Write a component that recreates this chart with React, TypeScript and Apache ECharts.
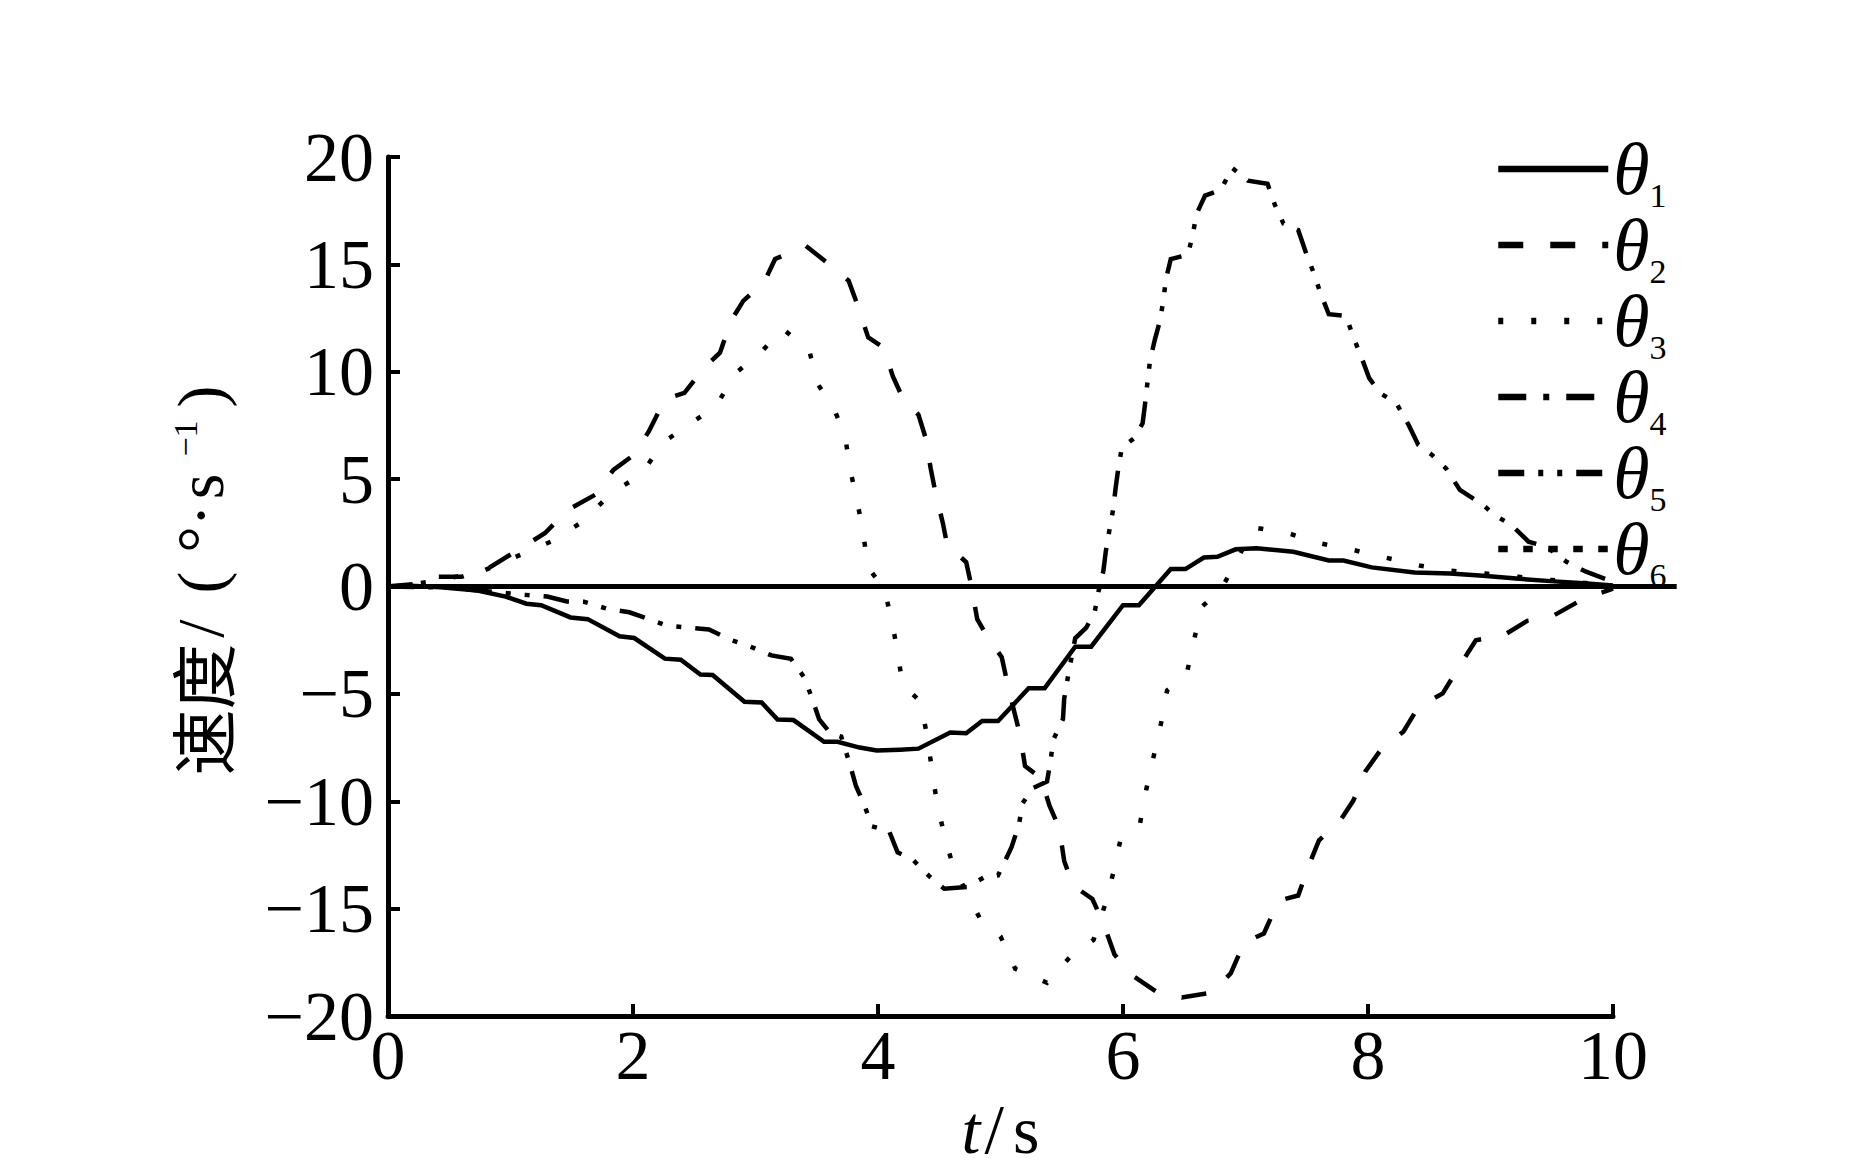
import React, { useEffect, useRef } from "react";
import * as echarts from "echarts";

// ---- data (t in s, velocity in deg/s) ----
const xTickValues = [0, 2, 4, 6, 8, 10];
const yTickValues = [-20, -15, -10, -5, 0, 5, 10, 15, 20];

const seriesNames = ["θ1", "θ2", "θ3", "θ4", "θ5", "θ6"];

const theta1: [number, number][] = [
  [0, 0], [0.14, 0.05], [0.43, -0.04], [0.73, -0.19], [0.96, -0.47], [1.13, -0.8], [1.25, -0.87],
  [1.49, -1.44], [1.63, -1.52], [1.89, -2.32], [2.01, -2.4], [2.26, -3.36], [2.39, -3.41],
  [2.55, -4.1], [2.65, -4.12], [2.91, -5.37], [3.05, -5.4], [3.18, -6.19], [3.31, -6.22],
  [3.56, -7.23], [3.67, -7.23], [3.85, -7.5], [3.99, -7.64], [4.18, -7.6], [4.33, -7.55],
  [4.59, -6.8], [4.72, -6.83], [4.85, -6.26], [4.98, -6.26], [5.23, -4.74], [5.36, -4.74],
  [5.61, -2.8], [5.74, -2.8], [6.0, -0.87], [6.13, -0.87], [6.39, 0.81], [6.51, 0.81],
  [6.66, 1.35], [6.77, 1.38], [6.92, 1.73], [7.09, 1.78], [7.39, 1.62], [7.68, 1.21],
  [7.8, 1.21], [8.03, 0.89], [8.38, 0.65], [8.67, 0.6], [8.94, 0.5], [9.21, 0.37],
  [9.49, 0.25], [9.76, 0.15], [10, 0.05],
];

const theta2: [number, number][] = [
  [0, 0], [0.2, 0.1], [0.41, 0.45], [0.6, 0.45], [0.84, 0.92], [1.06, 1.7], [1.28, 2.48],
  [1.47, 3.57], [1.69, 4.27], [1.84, 5.43], [2.01, 6.14], [2.13, 7.23], [2.26, 8.71],
  [2.42, 9.02], [2.58, 10.19], [2.71, 10.89], [2.8, 12.37], [2.9, 13.3], [3.07, 14.16],
  [3.16, 15.25], [3.41, 15.87], [3.58, 15.1], [3.76, 14.24], [3.83, 13.15], [3.92, 11.6],
  [4.05, 11.1], [4.12, 9.8], [4.2, 8.8], [4.33, 8.0], [4.39, 6.9], [4.43, 5.5], [4.47, 4.35],
  [4.53, 2.94], [4.57, 1.78], [4.65, 1.5], [4.72, 1.13], [4.76, 0.09], [4.81, -1.52],
  [4.89, -2.32], [5.01, -3.29], [5.05, -4.34], [5.11, -5.78], [5.16, -6.91], [5.2, -8.36],
  [5.33, -8.92], [5.4, -10.21], [5.48, -11.25], [5.52, -12.78], [5.59, -13.91], [5.75, -14.55],
  [5.84, -15.68], [5.93, -17.13], [6.05, -18.01], [6.28, -18.9], [6.48, -19.14], [6.73, -18.9],
  [6.88, -18.01], [6.99, -16.57], [7.15, -16.16], [7.27, -14.63], [7.43, -14.39], [7.52, -12.94],
  [7.6, -11.82], [7.77, -10.93], [7.88, -9.97], [7.98, -8.6], [8.1, -7.64], [8.29, -6.75],
  [8.41, -5.62], [8.61, -4.98], [8.74, -3.77], [8.88, -2.5], [9.1, -2.3], [9.3, -1.6],
  [9.5, -1.4], [9.75, -0.6], [10, -0.1],
];

const theta3: [number, number][] = [
  [0, 0], [0.4, 0.25], [0.79, 0.76], [1.33, 2.09], [1.59, 3.02], [1.83, 4.39], [2.06, 5.17],
  [2.25, 6.73], [2.47, 7.59], [2.68, 8.4], [2.83, 9.91], [3.03, 10.81], [3.22, 12.02],
  [3.44, 10.96], [3.51, 9.41], [3.64, 8.27], [3.73, 7.07], [3.77, 5.51], [3.83, 3.99],
  [3.88, 2.43], [3.92, 0.87], [4.05, -0.1], [4.11, -1.52], [4.16, -3.05], [4.2, -4.58],
  [4.35, -5.37], [4.4, -6.96], [4.44, -8.49], [4.48, -10.05], [4.54, -11.54], [4.61, -12.98],
  [4.83, -15.44], [5.0, -16.29], [5.12, -17.8], [5.38, -18.45], [5.57, -17.24], [5.76, -16.45],
  [5.85, -14.87], [5.92, -13.35], [5.98, -11.78], [6.14, -11.01], [6.19, -9.45], [6.25, -7.92],
  [6.31, -6.38], [6.36, -4.84], [6.52, -4.07], [6.58, -2.49], [6.64, -0.96], [6.8, -0.15],
  [7.07, 2.74], [7.34, 2.5], [7.6, 2.02], [7.88, 1.7], [8.14, 1.35], [8.42, 0.98],
  [8.68, 0.73], [8.96, 0.6], [9.23, 0.45], [9.5, 0.3], [9.8, 0.15], [10, 0.05],
];

const theta4: [number, number][] = [[0, 0], [10, 0]];

const theta5: [number, number][] = [
  [0, 0], [0.5, -0.05], [0.95, -0.3], [1.12, -0.39], [1.3, -0.47], [1.46, -0.7], [1.6, -0.71],
  [1.79, -1.04], [1.97, -1.2], [2.13, -1.52], [2.27, -1.81], [2.46, -1.92], [2.62, -2.0],
  [2.8, -2.49], [2.95, -2.78], [3.13, -3.21], [3.29, -3.37], [3.4, -4.25], [3.46, -5.19],
  [3.52, -6.19], [3.61, -6.82], [3.7, -6.99], [3.77, -8.27], [3.82, -9.29], [3.89, -10.2],
  [3.95, -11.17], [4.09, -11.38], [4.16, -12.38], [4.28, -12.7], [4.42, -13.5], [4.54, -14.07],
  [4.73, -13.99], [4.88, -13.5], [4.98, -13.45], [5.01, -13.1], [5.09, -12.14], [5.15, -11.1],
  [5.18, -10.1], [5.26, -9.4], [5.38, -9.08], [5.41, -8.07], [5.43, -7.15], [5.51, -6.17],
  [5.52, -5.22], [5.55, -4.22], [5.58, -3.29], [5.61, -2.41], [5.7, -1.92], [5.77, -1.15],
  [5.8, -0.23], [5.84, 0.73], [5.86, 1.65], [5.89, 2.66], [5.92, 3.6], [5.94, 4.6],
  [5.96, 5.43], [5.99, 6.45], [6.09, 6.9], [6.16, 7.6], [6.18, 8.5], [6.2, 9.52], [6.22, 10.5],
  [6.26, 11.5], [6.3, 12.34], [6.33, 13.33], [6.35, 14.3], [6.39, 15.25], [6.53, 15.45],
  [6.57, 16.4], [6.6, 17.35], [6.67, 18.2], [6.8, 18.47], [6.89, 19.5], [7.02, 18.9],
  [7.18, 18.75], [7.24, 17.77], [7.31, 16.9], [7.43, 16.6], [7.49, 15.6], [7.55, 14.7],
  [7.61, 13.7], [7.68, 12.68], [7.82, 12.6], [7.88, 11.62], [7.95, 10.62], [8.01, 9.7],
  [8.1, 9.0], [8.23, 8.55], [8.33, 7.54], [8.41, 6.6], [8.52, 6.14], [8.64, 5.48], [8.75, 4.5],
  [8.94, 3.8], [9.03, 3.33], [9.17, 2.87], [9.31, 2.09], [9.46, 1.85], [9.62, 1.15],
  [9.78, 0.69], [9.96, 0.3], [10, 0.2],
];

const theta6: [number, number][] = [[0, 0], [10, 0]];

// the solid zero reference line runs a little past t = 10
const zeroLineEnd = 10.52;
const zeroLine: [number, number][] = [[0, 0], [zeroLineEnd, 0]];

const seriesData = [theta1, theta2, theta3, theta4, theta5, theta6];

// line dash patterns (px)
const dashPatterns: any[] = [
  "solid",
  [25, 27],
  [5, 28],
  [28, 17, 6, 17],
  [26, 14, 5, 14, 5, 14],
  [9.5, 15.5],
];

const SERIF = "'Liberation Serif', 'Times New Roman', serif";
const CJK = "'Noto Sans CJK SC', 'Liberation Serif', sans-serif";

export default function App() {
  const ref = useRef<HTMLDivElement | null>(null);

  useEffect(() => {
    if (!ref.current) return;
    const chart = echarts.init(ref.current, null, { renderer: "svg" });

    const W = 1866;
    const gridLeft = 388;
    const gridRight = 253;
    const plotW = W - gridLeft - gridRight;
    // second (hidden) grid spanning the extended zero line
    const zeroGridRight = W - gridLeft - (plotW * zeroLineEnd) / 10;

    const series: any[] = seriesNames.map((name, i) => ({
      name,
      type: "line",
      data: seriesData[i],
      symbol: "none",
      showSymbol: false,
      silent: true,
      lineStyle: { color: "#000", width: 4.5, type: dashPatterns[i], cap: "butt", join: "miter" },
      itemStyle: { color: "#000" },
      z: 3,
    }));
    series.push({
      name: "zero",
      type: "line",
      xAxisIndex: 1,
      yAxisIndex: 1,
      data: zeroLine,
      symbol: "none",
      silent: true,
      lineStyle: { color: "#000", width: 5, type: "solid" },
      z: 4,
    });

    const option: any = {
      animation: false,
      backgroundColor: "#ffffff",
      grid: [
        { left: gridLeft, right: gridRight, top: 157, bottom: 152, containLabel: false, outerBoundsMode: "none" },
        { left: gridLeft, right: zeroGridRight, top: 157, bottom: 152, containLabel: false, outerBoundsMode: "none" },
      ],
      xAxis: [
        {
          type: "value",
          gridIndex: 0,
          min: 0,
          max: 10,
          interval: 2,
          axisLine: { show: true, onZero: false, lineStyle: { color: "#000", width: 5 } },
          axisTick: { show: true, inside: true, length: 12, lineStyle: { color: "#000", width: 4 } },
          axisLabel: {
            color: "#000",
            fontFamily: SERIF,
            fontSize: 70,
            margin: 4,
            formatter: (v: number) => (xTickValues.includes(v) ? String(v) : ""),
          },
          splitLine: { show: false },
          name: "{i|t}{sl|/}{r|s}",
          nameLocation: "middle",
          nameGap: 75,
          nameTextStyle: {
            color: "#000",
            fontFamily: SERIF,
            fontSize: 66,
            lineHeight: 70,
            rich: {
              i: { fontFamily: SERIF, fontStyle: "italic", fontSize: 68, lineHeight: 70, color: "#000", padding: [0, 4, 0, 0] },
              sl: { fontFamily: SERIF, fontSize: 70, lineHeight: 70, color: "#000", padding: [0, 9, 0, 0] },
              r: { fontFamily: SERIF, fontSize: 68, lineHeight: 70, color: "#000" },
            },
          },
        },
        { type: "value", gridIndex: 1, min: 0, max: zeroLineEnd, show: false },
      ],
      yAxis: [
        {
          type: "value",
          gridIndex: 0,
          min: -20,
          max: 20,
          interval: 5,
          axisLine: { show: true, onZero: false, lineStyle: { color: "#000", width: 5 } },
          axisTick: { show: true, inside: true, length: 12, lineStyle: { color: "#000", width: 4 } },
          axisLabel: {
            color: "#000",
            fontFamily: SERIF,
            fontSize: 70,
            margin: 14,
            padding: [0, 0, 18, 0],
            formatter: (v: number) =>
              yTickValues.includes(v) ? (v < 0 ? "\u2212" + String(-v) : String(v)) : "",
          },
          splitLine: { show: false },
          name: "{c|速度}{sl|/}{lp|(}{dg|°}{dt|·}{s|s}{sup|\u22121}{rp|)}",
          nameLocation: "middle",
          nameRotate: 90,
          nameGap: 155,
          nameTextStyle: {
            color: "#000",
            padding: [0, 0, 0, 12],
            rich: {
              c: { fontFamily: CJK, fontSize: 66, color: "#000" },
              sl: { fontFamily: SERIF, fontSize: 66, color: "#000", width: 30, align: "center" },
              lp: { fontFamily: SERIF, fontSize: 66, color: "#000", width: 62, align: "center" },
              dg: { fontFamily: SERIF, fontSize: 66, color: "#000", width: 24, align: "center" },
              dt: { fontFamily: SERIF, fontSize: 66, color: "#000", width: 24, align: "center" },
              s: { fontFamily: SERIF, fontSize: 66, color: "#000", width: 34, align: "center" },
              sup: {
                fontFamily: SERIF,
                fontSize: 34,
                lineHeight: 34,
                width: 62,
                align: "center",
                padding: [0, 0, 30, 0],
                color: "#000",
              },
              rp: { fontFamily: SERIF, fontSize: 66, color: "#000", width: 22, align: "center" },
            },
          },
        },
        { type: "value", gridIndex: 1, min: -20, max: 20, show: false },
      ],
      legend: {
        orient: "vertical",
        left: 1490,
        top: 121,
        itemWidth: 110,
        itemHeight: 14,
        itemGap: -10,
        selectedMode: false,
        itemStyle: { opacity: 0 },
        formatter: (name: string) => `{t|θ}{s|${name.slice(1)}}`,
        textStyle: {
          color: "#000",
          fontFamily: SERIF,
          rich: {
            t: { fontFamily: SERIF, fontStyle: "italic", fontSize: 74, lineHeight: 77, color: "#000" },
            s: { fontFamily: SERIF, fontSize: 34, lineHeight: 25, padding: [52, 0, 0, 0], color: "#000" },
          },
        },
        data: seriesNames.map((n, i) => ({
          name: n,
          lineStyle: { color: "#000", width: 6.5, type: dashPatterns[i], cap: "butt" },
          itemStyle: { opacity: 0 },
        })),
      },
      series,
    };

    chart.setOption(option);
    return () => {
      chart.dispose();
    };
  }, []);

  return (
    <div
      ref={ref}
      style={{ position: "fixed", left: 0, top: 0, width: 1866, height: 1168, background: "#fff" }}
    />
  );
}
